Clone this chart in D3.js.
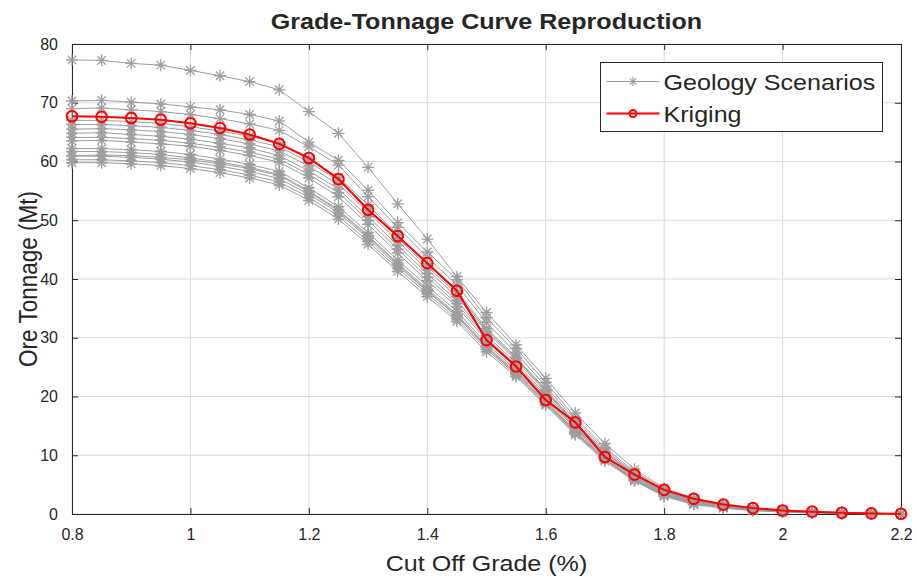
<!DOCTYPE html>
<html>
<head>
<meta charset="utf-8">
<script src="https://cdn.jsdelivr.net/npm/d3@7"></script>
<style>
    body { margin: 0; background: #fff; }
    text { font-family: "Liberation Sans", Arial, Helvetica, sans-serif; fill: #262626; }
    .tick_lbl { font-size: 16px; }
</style>
</head>
<body>
<div id="chart"></div>
<script>

// D A T A
var cutOffGrade = [0.8, 0.85, 0.9, 0.95, 1.0, 1.05, 1.1, 1.15, 1.2, 1.25, 1.3, 1.35, 1.4, 1.45, 1.5,
    1.55, 1.6, 1.65, 1.7, 1.75, 1.8, 1.85, 1.9, 1.95, 2.0, 2.05, 2.1, 2.15, 2.2];

var kriging = [67.7, 67.6, 67.4, 67.1, 66.5, 65.7, 64.6, 63.0, 60.6, 57.0, 51.8, 47.3, 42.7, 38.0, 29.6,
    25.1, 19.4, 15.6, 9.7, 6.7, 4.1, 2.6, 1.6, 1.0, 0.6, 0.4, 0.2, 0.1, 0.05];

var scen01 = [77.3, 77.2, 76.7, 76.4, 75.5, 74.6, 73.6, 72.2, 68.5, 64.8, 59.0, 52.8, 46.8, 40.4, 34.3, 28.8, 23.1, 17.2, 12.0, 7.6, 4.4, 2.7, 1.7, 1.1, 0.7, 0.4, 0.25, 0.12, 0.05];
var scen02 = [70.3, 70.4, 70.1, 69.8, 69.3, 68.8, 68.0, 66.9, 63.3, 60.2, 55.1, 49.6, 44.6, 39.9, 33.4, 28.2, 22.4, 16.4, 11.3, 7.2, 4.2, 2.5, 1.5, 1.0, 0.6, 0.35, 0.2, 0.1, 0.05];
var scen03 = [69.0, 69.1, 68.8, 68.5, 68.0, 67.3, 66.4, 65.3, 62.5, 59.4, 54.0, 48.8, 43.7, 39.0, 32.6, 27.4, 21.7, 16.0, 10.9, 7.0, 4.0, 2.4, 1.5, 0.9, 0.55, 0.3, 0.2, 0.1, 0.05];
var scen04 = [67.0, 67.0, 66.8, 66.5, 65.9, 65.2, 64.3, 63.2, 60.4, 57.3, 52.6, 47.5, 42.6, 37.9, 31.6, 26.7, 21.2, 15.6, 10.6, 6.8, 3.9, 2.3, 1.4, 0.9, 0.5, 0.3, 0.2, 0.1, 0.04];
var scen05 = [66.3, 66.3, 66.1, 65.8, 65.3, 64.6, 63.7, 62.5, 59.9, 56.8, 52.0, 47.0, 42.1, 37.5, 31.3, 26.5, 21.0, 15.4, 10.5, 6.7, 3.85, 2.25, 1.4, 0.85, 0.5, 0.3, 0.18, 0.09, 0.04];
var scen06 = [65.5, 65.6, 65.4, 65.1, 64.6, 63.9, 63.0, 61.8, 59.2, 56.1, 51.4, 46.5, 41.6, 37.0, 31.0, 26.2, 20.8, 15.2, 10.4, 6.6, 3.8, 2.2, 1.4, 0.85, 0.5, 0.3, 0.18, 0.09, 0.04];
var scen07 = [64.8, 64.9, 64.6, 64.3, 63.8, 63.1, 62.3, 61.0, 58.4, 55.3, 50.6, 45.7, 40.9, 36.3, 30.4, 25.7, 20.4, 14.9, 10.1, 6.4, 3.7, 2.1, 1.3, 0.8, 0.5, 0.3, 0.17, 0.08, 0.04];
var scen08 = [64.1, 64.1, 63.9, 63.6, 63.1, 62.4, 61.6, 60.4, 57.8, 54.7, 50.0, 45.1, 40.3, 35.8, 30.0, 25.3, 20.1, 14.7, 9.9, 6.3, 3.6, 2.1, 1.3, 0.8, 0.45, 0.28, 0.16, 0.08, 0.04];
var scen09 = [63.5, 63.6, 63.3, 63.0, 62.6, 61.9, 61.0, 59.9, 57.2, 54.0, 49.3, 44.4, 39.7, 35.3, 29.6, 25.0, 19.8, 14.5, 9.8, 6.2, 3.5, 2.0, 1.2, 0.75, 0.45, 0.27, 0.15, 0.07, 0.03];
var scen10 = [62.2, 62.2, 62.0, 61.7, 61.2, 60.4, 59.5, 58.3, 55.5, 52.3, 47.9, 43.2, 38.8, 34.5, 29.0, 24.5, 19.4, 14.2, 9.6, 6.0, 3.4, 1.9, 1.2, 0.7, 0.4, 0.25, 0.14, 0.07, 0.03];
var scen11 = [61.7, 61.7, 61.5, 61.2, 60.6, 59.9, 59.0, 57.8, 55.0, 51.8, 47.4, 42.7, 38.3, 34.0, 28.6, 24.2, 19.2, 14.0, 9.4, 5.9, 3.3, 1.85, 1.15, 0.7, 0.4, 0.24, 0.13, 0.06, 0.03];
var scen12 = [61.0, 61.1, 61.0, 60.7, 60.3, 59.6, 58.8, 57.6, 54.8, 51.6, 47.2, 42.5, 38.0, 33.8, 28.4, 24.0, 19.0, 13.9, 9.4, 5.8, 3.3, 1.8, 1.1, 0.68, 0.4, 0.23, 0.13, 0.06, 0.03];
var scen13 = [60.9, 60.9, 60.7, 60.4, 59.9, 59.2, 58.3, 57.1, 54.4, 51.3, 46.9, 42.2, 37.9, 33.6, 28.3, 23.9, 18.9, 13.8, 9.3, 5.8, 3.2, 1.8, 1.1, 0.65, 0.38, 0.22, 0.12, 0.06, 0.03];
var scen14 = [60.3, 60.3, 60.1, 59.8, 59.3, 58.6, 57.7, 56.5, 53.9, 50.7, 46.4, 41.8, 37.5, 33.2, 28.0, 23.7, 18.7, 13.7, 9.2, 5.7, 3.1, 1.7, 1.05, 0.6, 0.36, 0.2, 0.11, 0.05, 0.02];
var scen15 = [59.8, 59.8, 59.6, 59.3, 58.8, 58.1, 57.2, 56.0, 53.4, 50.2, 45.9, 41.3, 37.0, 32.8, 27.6, 23.4, 18.5, 13.5, 9.0, 5.6, 3.0, 1.6, 1.0, 0.6, 0.35, 0.2, 0.1, 0.05, 0.02];

var scenarios = [scen01, scen02, scen03, scen04, scen05, scen06, scen07, scen08,
    scen09, scen10, scen11, scen12, scen13, scen14, scen15];

var xTicks = [0.8, 1, 1.2, 1.4, 1.6, 1.8, 2, 2.2];
var yTicks = [0, 10, 20, 30, 40, 50, 60, 70, 80];

var legendNames = ['Geology Scenarios', 'Kriging'];

window.onload = function () {

    const width = 916;
    const height = 578;
    var margin = { top: 44, right: 15, bottom: 64, left: 72 };
    var w = width - margin.left - margin.right;
    var h = height - margin.top - margin.bottom;

    var grey = 'rgb(158, 158, 158)';
    var axisCol = '#262626';
    var stretch = 1.14;   // the picture's big text is a bit wide

    var svg = d3.select('#chart').append('svg')
        .attr('width', width)
        .attr('height', height);

    var g = svg.append('g')
        .attr('transform', 'translate(' + margin.left + ',' + margin.top + ')');

    var x = d3.scaleLinear().domain([0.8, 2.2]).range([0, w]);
    var y = d3.scaleLinear().domain([0, 80]).range([h, 0]);

    // G R I D
    g.selectAll('.vgrid').data(xTicks).enter().append('line')
        .attr('x1', d => x(d)).attr('x2', d => x(d))
        .attr('y1', 0).attr('y2', h)
        .attr('stroke', '#dadada').attr('stroke-width', 1);
    g.selectAll('.hgrid').data(yTicks).enter().append('line')
        .attr('x1', 0).attr('x2', w)
        .attr('y1', d => y(d)).attr('y2', d => y(d))
        .attr('stroke', '#dadada').attr('stroke-width', 1);

    // A X E S  (ticks point inward like matlab)
    var xAxis = g.append('g').attr('transform', 'translate(0,' + h + ')')
        .call(d3.axisBottom(x).tickValues(xTicks).tickSizeInner(-6).tickSizeOuter(0).tickPadding(15)
            .tickFormat(d3.format('')));
    var yAxis = g.append('g')
        .call(d3.axisLeft(y).tickValues(yTicks).tickSizeInner(-6).tickSizeOuter(0).tickPadding(14));
    var xTop = g.append('g')
        .call(d3.axisTop(x).tickValues(xTicks).tickSizeInner(-6).tickSizeOuter(0).tickFormat(''));
    var yRight = g.append('g').attr('transform', 'translate(' + w + ',0)')
        .call(d3.axisRight(y).tickValues(yTicks).tickSizeInner(-6).tickSizeOuter(0).tickFormat(''));

    [xAxis, yAxis, xTop, yRight].forEach(function (a) {
        a.select('.domain').attr('stroke', axisCol).attr('stroke-width', 1);
        a.selectAll('.tick line').attr('stroke', axisCol);
        a.selectAll('.tick text').attr('class', 'tick_lbl').attr('fill', axisCol)
            .style('font-size', '16px').style('font-family', '"Liberation Sans", Arial, sans-serif');
    });

    // L I N E S
    var line = d3.line()
        .x((d, i) => x(cutOffGrade[i]))
        .y(d => y(d));

    function asterisk(sel, r, sw) {
        // matlab '*' marker: a plus and a cross on top of each other
        var a = r * 0.7071;
        sel.append('path')
            .attr('d', 'M' + (-r) + ',0L' + r + ',0M0,' + (-r) + 'L0,' + r +
                'M' + (-a) + ',' + (-a) + 'L' + a + ',' + a + 'M' + (-a) + ',' + a + 'L' + a + ',' + (-a))
            .attr('stroke', grey).attr('stroke-width', sw).attr('fill', 'none');
    }

    var plot = g.append('g');

    scenarios.forEach(function (s) {
        plot.append('path').datum(s)
            .attr('d', line)
            .attr('fill', 'none')
            .attr('stroke', grey)
            .attr('stroke-width', 1);
        plot.selectAll(null).data(s).enter().append('g')
            .attr('transform', (d, i) => 'translate(' + x(cutOffGrade[i]) + ',' + y(d) + ')')
            .call(asterisk, 6, 1.3);
    });

    plot.append('path').datum(kriging)
        .attr('d', line)
        .attr('fill', 'none')
        .attr('stroke', 'red')
        .attr('stroke-width', 2);
    plot.selectAll('.kpt').data(kriging).enter().append('circle')
        .attr('cx', (d, i) => x(cutOffGrade[i]))
        .attr('cy', d => y(d))
        .attr('r', 5.3)
        .attr('fill', 'none')
        .attr('stroke', 'red')
        .attr('stroke-width', 2);

    // L E G E N D
    var leg = svg.append('g').attr('transform', 'translate(600.5,62.5)');
    leg.append('rect')
        .attr('width', 282).attr('height', 69)
        .attr('fill', 'white').attr('stroke', axisCol).attr('stroke-width', 1);

    legendNames.forEach(function (name, i) {
        var row = leg.append('g').attr('transform', 'translate(0,' + (19 + i * 32) + ')');
        row.append('line').attr('x1', 6).attr('x2', 59).attr('y1', 0).attr('y2', 0)
            .attr('stroke', i === 0 ? grey : 'red').attr('stroke-width', i === 0 ? 1 : 2);
        if (i === 0) {
            row.append('g').attr('transform', 'translate(32.5,0)').call(asterisk, 4.5, 1.2);
        } else {
            row.append('circle').attr('cx', 32.5).attr('cy', 0).attr('r', 3.5)
                .attr('fill', 'none').attr('stroke', 'red').attr('stroke-width', 2);
        }
        row.append('text')
            .attr('transform', 'translate(63,8) scale(' + stretch + ',1)')
            .style('font-size', '22px')
            .attr('fill', '#000')
            .text(name);
    });

    // T I T L E S
    svg.append('text')
        .attr('transform', 'translate(' + (margin.left + w / 2) + ',29) scale(' + stretch + ',1)')
        .attr('text-anchor', 'middle')
        .style('font-size', '22px').style('font-weight', 'bold')
        .attr('fill', '#000')
        .text('Grade-Tonnage Curve Reproduction');

    svg.append('text')
        .attr('transform', 'translate(' + (margin.left + w / 2) + ',571) scale(' + stretch + ',1)')
        .attr('text-anchor', 'middle')
        .style('font-size', '22px')
        .text('Cut Off Grade (%)');

    svg.append('text')
        .attr('transform', 'translate(37,' + (margin.top + h / 2) + ') rotate(-90) scale(1,' + stretch + ')')
        .attr('text-anchor', 'middle')
        .style('font-size', '22.5px')
        .text('Ore Tonnage (Mt)');

}; // end window.onload
</script>
</body>
</html>
